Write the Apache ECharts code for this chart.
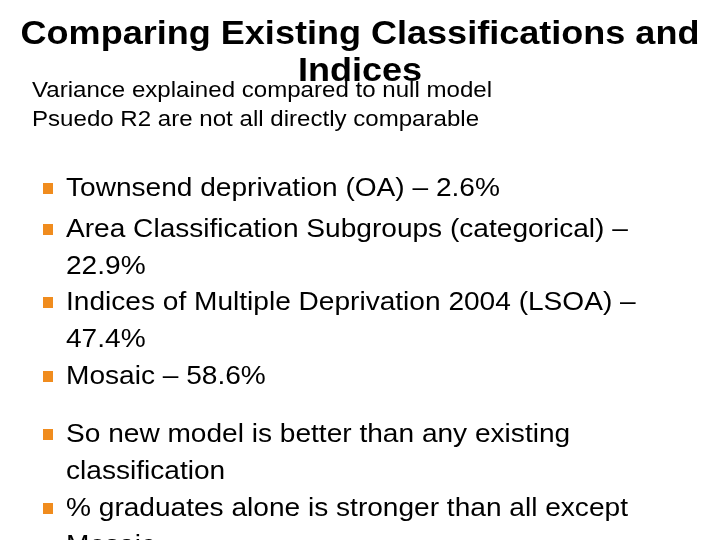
<!DOCTYPE html>
<head>
<meta charset="utf-8">
<script src="https://cdn.jsdelivr.net/npm/echarts@6/dist/echarts.min.js"></script>
<style>html,body{margin:0;background:#fff}#main{width:720px;height:540px}</style>
</head>
<body>
<div id="main"></div>
<script>
var titleLines = ['Comparing Existing Classifications and', 'Indices'];
var subLines = ['Variance explained compared to null model', 'Psuedo R2 are not all directly comparable'];
// each bullet: list of wrapped lines
var bullets = [
    ['Townsend deprivation (OA) \u2013 2.6%'],
    ['Area Classification Subgroups (categorical) \u2013', '22.9%'],
    ['Indices of Multiple Deprivation 2004 (LSOA) \u2013', '47.4%'],
    ['Mosaic \u2013 58.6%'],
    ['So new model is better than any existing', 'classification'],
    ['% graduates alone is stronger than all except', 'Mosaic']
];
var bulletTops = [189, 230, 303, 377, 435, 509];

var font = '"Liberation Sans", Arial, sans-serif';
var els = [];
els.push({type: 'text', x: 360, y: 35, scaleX: 1.06, style: {text: titleLines[0], font: 'bold 34px ' + font, fill: '#000', textAlign: 'center', textVerticalAlign: 'middle'}});
els.push({type: 'text', x: 360, y: 72, scaleX: 1.06, style: {text: titleLines[1], font: 'bold 34px ' + font, fill: '#000', textAlign: 'center', textVerticalAlign: 'middle'}});
els.push({type: 'text', x: 32, y: 91, scaleX: 1.12, style: {text: subLines[0], font: '21.5px ' + font, fill: '#000', textVerticalAlign: 'middle'}});
els.push({type: 'text', x: 32, y: 120, scaleX: 1.12, style: {text: subLines[1], font: '21.5px ' + font, fill: '#000', textVerticalAlign: 'middle'}});
bullets.forEach(function (lines, i) {
    var y = bulletTops[i];
    els.push({type: 'rect', shape: {x: 43, y: y - 6, width: 10, height: 11}, style: {fill: '#f08c1e'}});
    lines.forEach(function (t, j) {
        els.push({type: 'text', x: 66, y: y + j * 37, scaleX: 1.08, style: {text: t, font: '26px ' + font, fill: '#000', textVerticalAlign: 'middle'}});
    });
});

var chart = echarts.init(document.getElementById('main'));
chart.setOption({backgroundColor: '#fff', animation: false, graphic: els});
</script>
</body>
